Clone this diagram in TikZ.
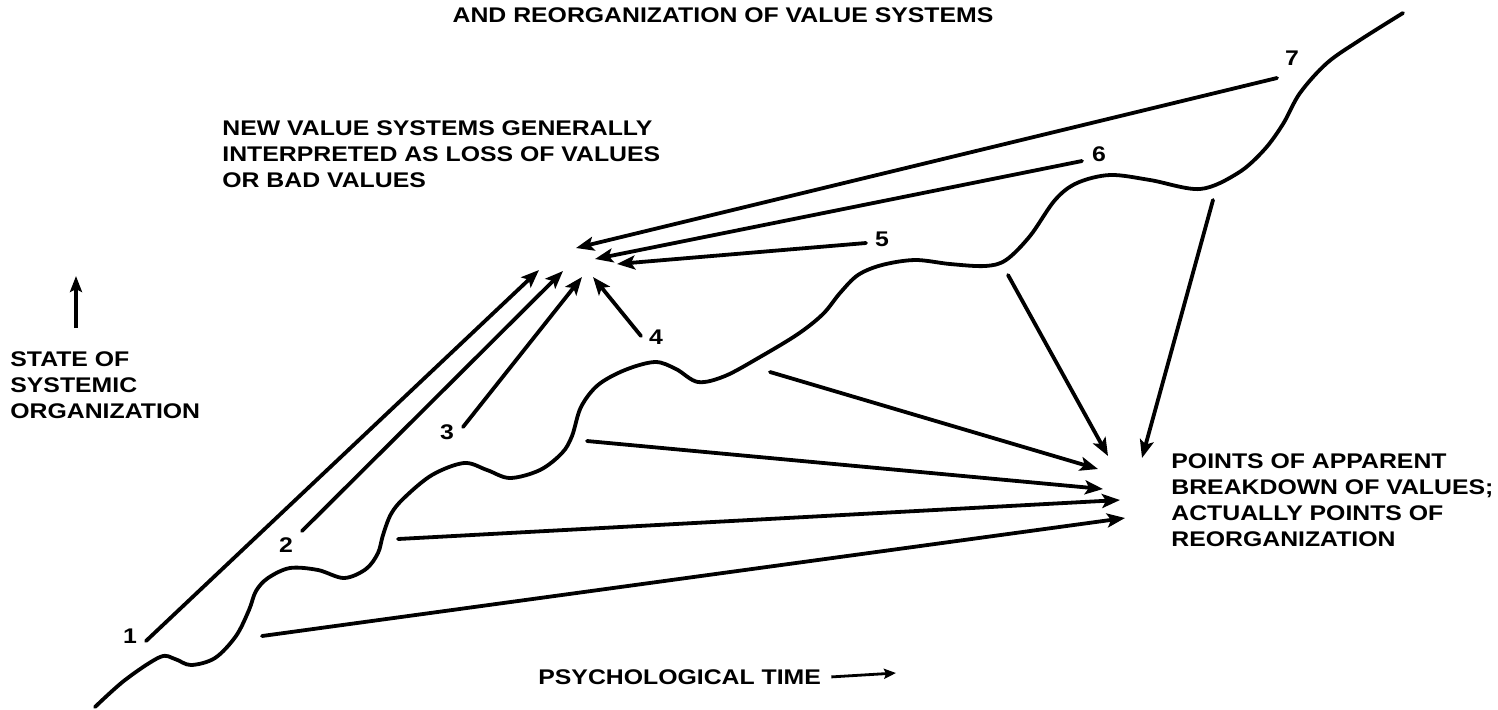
\documentclass[tikz,border=0pt]{standalone}
\usepackage{fontspec}
\usetikzlibrary{arrows.meta}
\newfontfamily\lblfont{Liberation Sans}[FakeStretch=1.17]
\begin{document}
\begin{tikzpicture}[x=0.5pt,y=-0.5pt,
  lbl/.style={font=\lblfont\bfseries\fontsize{10.6}{13}\selectfont,inner sep=0pt,align=left},
  num/.style={font=\lblfont\bfseries\fontsize{10.6}{13}\selectfont,inner sep=0pt},
  curve/.style={line width=1.9pt,line cap=round,line join=round},
  ray/.style={line width=1.9pt,line cap=round,-{Stealth[length=9pt,width=7pt,inset=2pt]}},
  axis/.style={line width=1.6pt,-{Stealth[length=8pt,width=6pt,inset=1.5pt]}},
  timearrow/.style={line width=1.4pt,-{Stealth[length=6pt,width=5pt,inset=1pt]}}
]
\useasboundingbox (0,0) rectangle (1498,709);

% headings and labels
\node[lbl,anchor=north] (title) at (723,7) {AND REORGANIZATION OF VALUE SYSTEMS};
\node[lbl,anchor=north west] (newvals) at (222,120)
  {NEW VALUE SYSTEMS GENERALLY\\INTERPRETED AS LOSS OF VALUES\\OR BAD VALUES};
\node[lbl,anchor=north west] (state) at (10,351)
  {STATE OF\\SYSTEMIC\\ORGANIZATION};
\node[lbl,anchor=north west] (points) at (1171,453)
  {POINTS OF APPARENT\\BREAKDOWN OF VALUES;\\ACTUALLY POINTS OF\\REORGANIZATION};
\node[lbl,anchor=north west] (ptime) at (538,669) {PSYCHOLOGICAL TIME};

% axis arrows
\coordinate (upbase) at (76,328);
\coordinate (uptip) at (76,276);
\draw[axis] (upbase) -- (uptip);
\coordinate (tend) at (896,673);
\draw[timearrow] ([xshift=5pt]ptime.east) -- (tend);

% the wavy course of systemic organization
\draw[curve] plot[smooth,tension=0.55] coordinates {
  (95,707) (125,680) (160,657) (175,659) (191,665) (215,658) (236,636)
  (249,610) (256,591) (268,578) (290,568) (318,570) (344,578) (366,569)
  (378,553) (383,535) (391,514) (404,498) (432,475) (464,463) (487,470)
  (510,478) (540,470) (562,453) (572,436) (581,407) (598,385) (625,370)
  (655,362) (676,369) (698,382) (725,376) (760,357) (798,334) (823,314)
  (840,293) (858,275) (882,265) (915,260) (950,264) (985,266) (1006,260)
  (1030,236) (1055,200) (1077,183) (1110,175) (1150,180) (1200,189)
  (1238,173) (1264,150) (1283,124) (1300,93) (1327,63) (1360,40) (1403,13)};

% stage numbers
\node[num] (n1) at (130,636) {1};
\node[num] (n2) at (286,545) {2};
\node[num] (n3) at (447,432) {3};
\node[num] (n4) at (656,337) {4};
\node[num] (n5) at (882,239) {5};
\node[num] (n6) at (1099,154) {6};
\node[num] (n7) at (1292,58) {7};

% rays from the stages to the new value systems
\coordinate (s1) at (146,641); \coordinate (t1) at (539,270);
\coordinate (s2) at (302,531); \coordinate (t2) at (563,271);
\coordinate (s3) at (463,427); \coordinate (t3) at (582,277);
\coordinate (s4) at (641,336); \coordinate (t4) at (593,277);
\coordinate (s5) at (866,243); \coordinate (t5) at (617,264);
\coordinate (s6) at (1082,161); \coordinate (t6) at (595,259);
\coordinate (s7) at (1277,78); \coordinate (t7) at (576,248);
\foreach \i in {1,...,7} \draw[ray] (s\i) -- (t\i);

% rays from the dips to the points of reorganization
\coordinate (d1) at (262,636);  \coordinate (r1) at (1125,518);
\coordinate (d2) at (398,539);  \coordinate (r2) at (1120,500);
\coordinate (d3) at (587,441);  \coordinate (r3) at (1103,489);
\coordinate (d4) at (770,372);  \coordinate (r4) at (1098,469);
\coordinate (d5) at (1008,275); \coordinate (r5) at (1108,456);
\coordinate (d6) at (1213,200); \coordinate (r6) at (1142,458);
\foreach \i in {1,...,6} \draw[ray] (d\i) -- (r\i);
\end{tikzpicture}
\end{document}
